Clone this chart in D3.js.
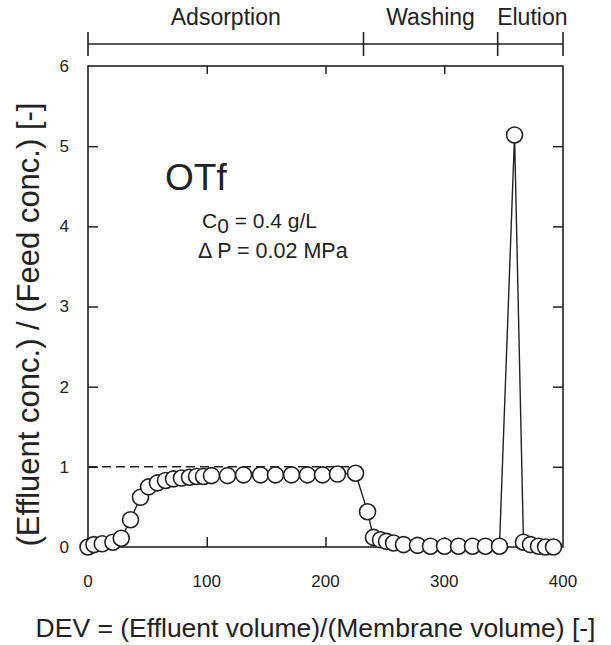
<!DOCTYPE html>
<html>
<head>
<meta charset="utf-8">
<script src="https://cdn.jsdelivr.net/npm/d3@7"></script>
<style>
  body { margin: 0; background: #fff; }
  text { font-family: "Liberation Sans", Arial, Helvetica, sans-serif; fill: #222; }
</style>
</head>
<body>
<div id="chart"></div>
<script>
// DEV values and normalized concentration
var dev = [0, 5, 12, 21, 28, 35.8, 44.2, 51, 58.5, 65.3, 72, 78.7, 85.5, 91.4, 97.3, 104,
    117.5, 131, 145.3, 157.9, 171.4, 184.8, 197.5, 210.1, 225.3,
    235.4, 240.4, 246.3, 251.4, 257.3, 265.7, 277.5, 288.4, 300.2, 312, 323.8, 334.7, 346.5,
    359.2, 366.7, 372.6, 379.4, 385.3, 392];
var conc = [0.0, 0.03, 0.04, 0.06, 0.11, 0.34, 0.62, 0.75, 0.80, 0.83, 0.85, 0.86, 0.87, 0.88, 0.88, 0.89,
    0.89, 0.90, 0.90, 0.90, 0.90, 0.90, 0.90, 0.91, 0.92,
    0.44, 0.12, 0.09, 0.07, 0.05, 0.03, 0.02, 0.01, 0.01, 0.01, 0.01, 0.01, 0.01,
    5.14, 0.06, 0.03, 0.01, 0.0, 0.0];

var xTicks = [0, 100, 200, 300, 400];
var yTicks = [0, 1, 2, 3, 4, 5, 6];
var phaseNames = ["Adsorption", "Washing", "Elution"];
var phaseBounds = [0, 232, 345, 400];
var feedLevel = [0, 230];  // dashed C/C0 = 1 line, DEV range

var margin = { top: 66, right: 48, bottom: 98, left: 88 };
var width = 611 - margin.left - margin.right,
    height = 645 - margin.top - margin.bottom;

var svg = d3.select("#chart")
    .append("svg")
    .attr("width", 611)
    .attr("height", 645)
    .append("g")
    .attr("transform", "translate(" + margin.left + "," + margin.top + ")");

var x = d3.scaleLinear().domain([0, 400]).range([0, width]);
var y = d3.scaleLinear().domain([0, 6]).range([height, 0]);

// frame
svg.append("rect")
    .attr("x", 0).attr("y", 0)
    .attr("width", width).attr("height", height)
    .style("fill", "none")
    .style("stroke", "#222")
    .style("stroke-width", 1.6);

// inward ticks on all four sides
var inner = yTicks.slice(1, -1);
svg.append("g").call(d3.axisRight(y).tickValues(inner).tickSize(10).tickFormat(""))
    .call(function (g) { g.select(".domain").remove(); });
svg.append("g").attr("transform", "translate(" + width + ",0)")
    .call(d3.axisLeft(y).tickValues(inner).tickSize(10).tickFormat(""))
    .call(function (g) { g.select(".domain").remove(); });
svg.append("g").attr("transform", "translate(0," + height + ")")
    .call(d3.axisTop(x).tickValues(xTicks.slice(1, -1)).tickSize(10).tickFormat(""))
    .call(function (g) { g.select(".domain").remove(); });
svg.append("g")
    .call(d3.axisBottom(x).tickValues(xTicks.slice(1, -1)).tickSize(8).tickFormat(""))
    .call(function (g) { g.select(".domain").remove(); });
svg.selectAll(".tick line").style("stroke", "#222").style("stroke-width", 1.5);

// tick labels
svg.selectAll(".ylab")
    .data(yTicks)
    .enter()
    .append("text")
    .attr("x", -19)
    .attr("y", function (d) { return y(d); })
    .attr("dy", "0.35em")
    .style("text-anchor", "end")
    .style("font-size", "17px")
    .text(function (d) { return d; });

svg.selectAll(".xlab")
    .data(xTicks)
    .enter()
    .append("text")
    .attr("x", function (d) { return x(d); })
    .attr("y", height + 40)
    .style("text-anchor", "middle")
    .style("font-size", "17px")
    .text(function (d) { return d; });

// phase bar above the plot
var bar = svg.append("g").attr("transform", "translate(0,-22)");
bar.append("line")
    .attr("x1", x(0)).attr("x2", x(400))
    .attr("y1", 0).attr("y2", 0)
    .style("stroke", "#222").style("stroke-width", 1.6);
bar.selectAll(".pt")
    .data(phaseBounds)
    .enter()
    .append("line")
    .attr("x1", function (d) { return x(d); })
    .attr("x2", function (d) { return x(d); })
    .attr("y1", -12).attr("y2", 12)
    .style("stroke", "#222").style("stroke-width", 1.6);
bar.selectAll(".pn")
    .data(phaseNames)
    .enter()
    .append("text")
    .attr("x", function (d, i) { return (x(phaseBounds[i]) + x(phaseBounds[i + 1])) / 2 + (i == 2 ? 2 : 0); })
    .attr("y", -19)
    .style("text-anchor", "middle")
    .style("font-size", "23px")
    .text(function (d) { return d; });

// dashed feed level
svg.append("line")
    .attr("x1", x(feedLevel[0])).attr("x2", x(feedLevel[1]))
    .attr("y1", y(1)).attr("y2", y(1))
    .style("stroke", "#222")
    .style("stroke-width", 1.5)
    .style("stroke-dasharray", "9,5");

// data line + open circles
var pts = dev.map(function (d, i) { return [d, conc[i]]; });
svg.append("path")
    .datum(pts)
    .attr("d", d3.line().x(function (d) { return x(d[0]); }).y(function (d) { return y(d[1]); }))
    .style("fill", "none")
    .style("stroke", "#222")
    .style("stroke-width", 1.4);

svg.append("g")
    .selectAll("circle")
    .data(pts)
    .enter()
    .append("circle")
    .attr("cx", function (d) { return x(d[0]); })
    .attr("cy", function (d) { return y(d[1]); })
    .attr("r", 8)
    .style("fill", "#fff")
    .style("stroke", "#222")
    .style("stroke-width", 1.6);

// annotations
svg.append("text")
    .attr("x", 77).attr("y", 124)
    .style("font-size", "37px")
    .text("OTf");

var c0 = svg.append("text")
    .attr("x", 114).attr("y", 162)
    .style("font-size", "21px");
c0.append("tspan").text("C");
c0.append("tspan").attr("dy", 5).text("0");
c0.append("tspan").attr("dy", -5).text(" = 0.4 g/L");

svg.append("text")
    .attr("x", 110).attr("y", 192)
    .style("font-size", "21.5px")
    .text("\u0394 P = 0.02 MPa");

// axis titles
svg.append("text")
    .attr("x", width / 2 - 10)
    .attr("y", height + 90)
    .style("text-anchor", "middle")
    .style("font-size", "26.5px")
    .text("DEV = (Effluent volume)/(Membrane volume) [-]");

svg.append("text")
    .attr("transform", "rotate(-90)")
    .attr("x", -(height / 2) - 18)
    .attr("y", -margin.left + 39)
    .style("text-anchor", "middle")
    .style("font-size", "31px")
    .text("(Effluent conc.) / (Feed conc.) [-]");
</script>
</body>
</html>
